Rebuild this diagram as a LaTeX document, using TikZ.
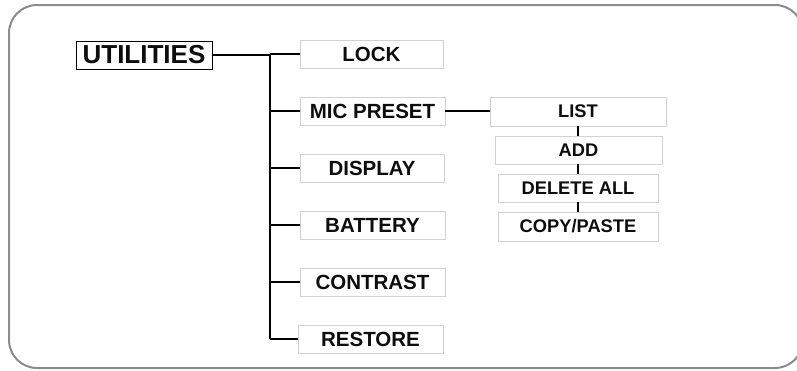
\documentclass[tikz,border=0pt]{standalone}
\usepackage{fontspec}
\setmainfont{Liberation Sans}
\begin{document}
\begin{tikzpicture}[x=1pt,y=-1pt,
  txt/.style={font=\bfseries\fontsize{20.5}{22}\selectfont, text=black!95},
  lvtwo/.style={txt, draw=black!18, line width=0.9pt, inner sep=0pt, minimum height=28pt},
  lvthree/.style={lvtwo, font=\bfseries\fontsize{18.3}{20}\selectfont},
  root/.style={draw=black, line width=0.9pt, inner sep=0pt, minimum height=28pt, minimum width=136pt,
     font=\bfseries\fontsize{26}{28}\selectfont, text=black!95},
  conn/.style={draw=black, line width=1.1pt}]
\useasboundingbox (0,0) rectangle (797,370);
\clip (0,0) rectangle (797,370);
\draw[black!45, line width=2pt, rounded corners=28pt] (9,5) rectangle (803,368);

\node[root] (util) at (144,55) {UTILITIES};
\node[lvtwo, minimum width=143pt] (lock) at (371.5,54) {LOCK};
\node[lvtwo, minimum width=145pt] (mic) at (372.5,111) {MIC PRESET};
\node[lvtwo, minimum width=144pt] (disp) at (372,168) {DISPLAY};
\node[lvtwo, minimum width=145pt] (batt) at (372.5,225) {BATTERY};
\node[lvtwo, minimum width=145pt] (contr) at (372.5,282) {CONTRAST};
\node[lvtwo, minimum width=145pt] (rest) at (370.5,339) {RESTORE};

\node[lvthree, minimum width=176pt, minimum height=29pt] (list) at (578,111.5) {LIST};
\node[lvthree, minimum width=167pt] (add) at (578.5,150) {ADD};
\node[lvthree, minimum width=160pt] (del) at (578,188) {DELETE ALL};
\node[lvthree, minimum width=160pt, minimum height=29pt] (copy) at (578,226.5) {COPY/PASTE};

\coordinate (trunktop) at (270,54);
\coordinate (trunkbot) at (270,339);
\draw[conn] (util.east) -- (util.east -| trunktop);
\draw[conn] (trunktop) -- (trunkbot);
\foreach \n in {lock,mic,disp,batt,contr,rest}
  \draw[conn] (\n.west -| trunktop) -- (\n.west);
\draw[conn] (mic.east) -- (mic.east -| list.west);
\draw[conn] (list.south) -- (list.south |- add.north);
\draw[conn] (add.south -| list.south) -- (list.south |- del.north);
\draw[conn] (del.south -| list.south) -- (list.south |- copy.north);
\end{tikzpicture}
\end{document}
